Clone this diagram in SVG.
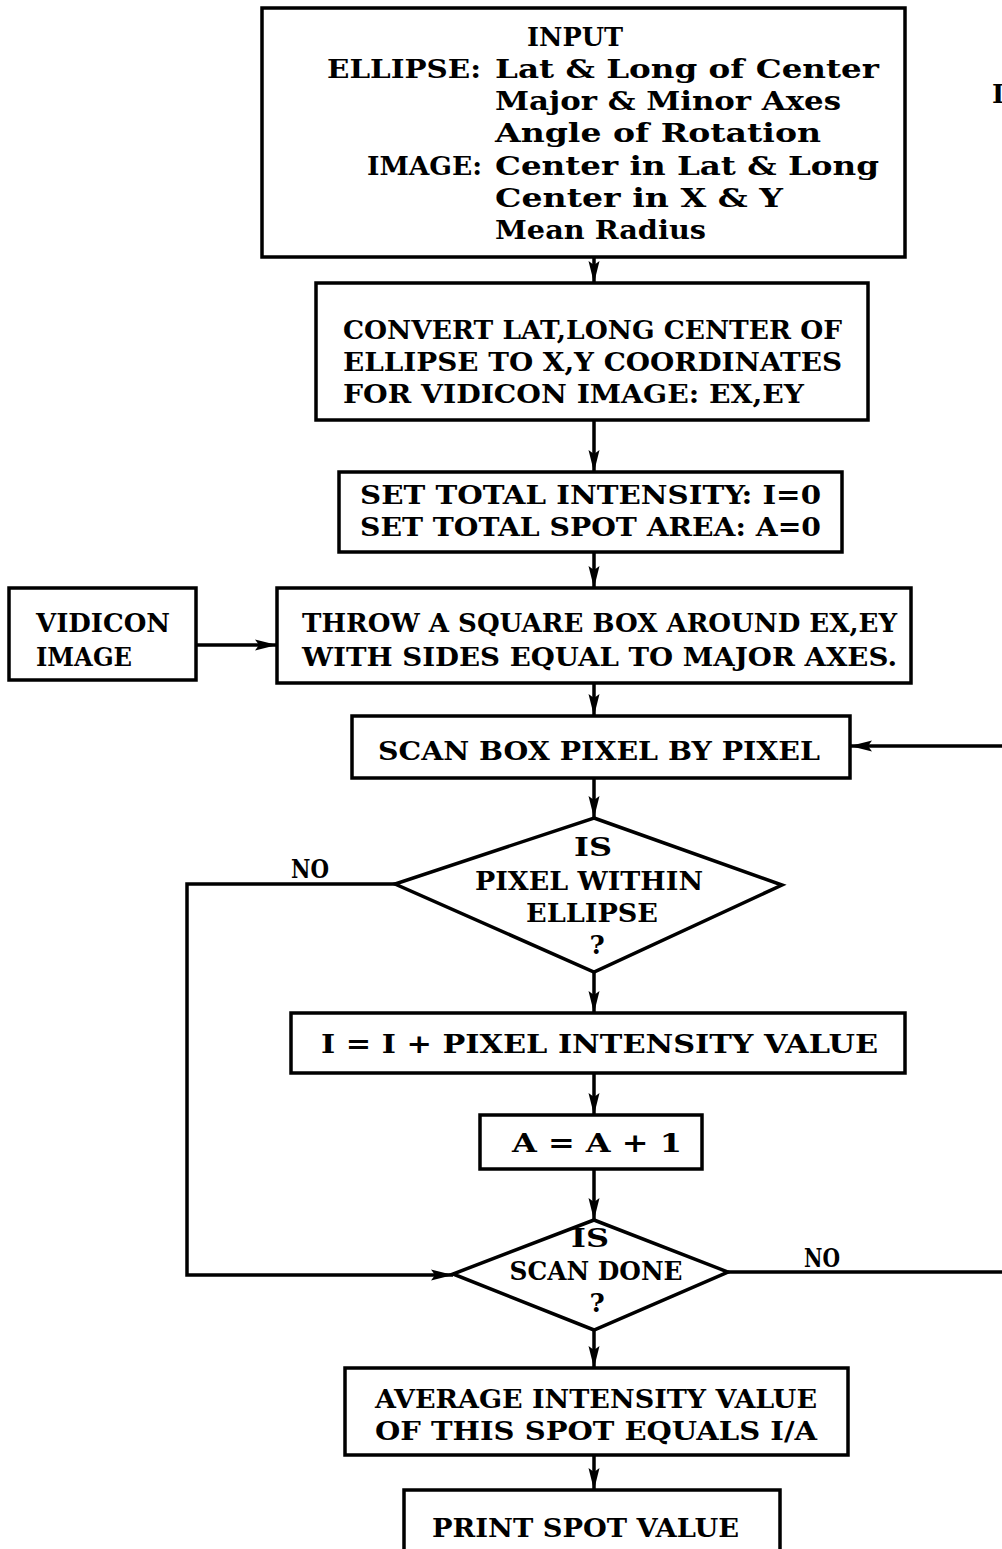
<svg xmlns="http://www.w3.org/2000/svg" width="1002" height="1549" viewBox="0 0 1002 1549">
<style>
  .box { fill: #fff; stroke: #000; stroke-width: 3.5; }
  .ln { fill: none; stroke: #000; stroke-width: 3.5; }
  text { font-family: "DejaVu Serif", "Liberation Serif", serif; font-weight: bold; font-size: 26px; fill: #000; }
  .c { text-anchor: middle; }
</style>
<defs>
  <marker id="ah" markerUnits="userSpaceOnUse" markerWidth="24" markerHeight="14" refX="22" refY="7" orient="auto">
    <path d="M0,1.5 L22,7 L0,12.5 L4,7 z" fill="#000"/>
  </marker>
</defs>
<rect width="1002" height="1549" fill="#fff"/>

<g id="connectors">
  <line class="ln" x1="594" y1="257" x2="594" y2="283" marker-end="url(#ah)"/>
  <line class="ln" x1="594" y1="420" x2="594" y2="472" marker-end="url(#ah)"/>
  <line class="ln" x1="594" y1="552" x2="594" y2="588" marker-end="url(#ah)"/>
  <line class="ln" x1="196" y1="645" x2="277" y2="645" marker-end="url(#ah)"/>
  <line class="ln" x1="594" y1="683" x2="594" y2="716" marker-end="url(#ah)"/>
  <line class="ln" x1="1002" y1="746" x2="850" y2="746" marker-end="url(#ah)"/>
  <line class="ln" x1="594" y1="778" x2="594" y2="818" marker-end="url(#ah)"/>
  <polyline class="ln" points="395,884 187,884 187,1275 453,1275" marker-end="url(#ah)"/>
  <line class="ln" x1="594" y1="972" x2="594" y2="1013" marker-end="url(#ah)"/>
  <line class="ln" x1="594" y1="1073" x2="594" y2="1115" marker-end="url(#ah)"/>
  <line class="ln" x1="594" y1="1169" x2="594" y2="1220" marker-end="url(#ah)"/>
  <line class="ln" x1="728" y1="1272" x2="1002" y2="1272"/>
  <line class="ln" x1="594" y1="1330" x2="594" y2="1368" marker-end="url(#ah)"/>
  <line class="ln" x1="594" y1="1455" x2="594" y2="1490" marker-end="url(#ah)"/>
  <text x="310" y="878" class="c" textLength="38" lengthAdjust="spacingAndGlyphs">NO</text>
  <text x="822" y="1267" class="c" textLength="36" lengthAdjust="spacingAndGlyphs">NO</text>
</g>

<g id="input">
  <rect class="box" x="262" y="8" width="643" height="249"/>
  <text x="527" y="46" textLength="96" lengthAdjust="spacingAndGlyphs">INPUT</text>
  <text x="327" y="78" textLength="154" lengthAdjust="spacingAndGlyphs">ELLIPSE:</text>
  <text x="495" y="78" textLength="384" lengthAdjust="spacingAndGlyphs">Lat &amp; Long of Center</text>
  <text x="495" y="110" textLength="346" lengthAdjust="spacingAndGlyphs">Major &amp; Minor Axes</text>
  <text x="495" y="142" textLength="326" lengthAdjust="spacingAndGlyphs">Angle of Rotation</text>
  <text x="367" y="175" textLength="115" lengthAdjust="spacingAndGlyphs">IMAGE:</text>
  <text x="495" y="175" textLength="384" lengthAdjust="spacingAndGlyphs">Center in Lat &amp; Long</text>
  <text x="495" y="207" textLength="288" lengthAdjust="spacingAndGlyphs">Center in X &amp; Y</text>
  <text x="495" y="239" textLength="211" lengthAdjust="spacingAndGlyphs">Mean Radius</text>
</g>

<g id="convert">
  <rect class="box" x="316" y="283" width="552" height="137"/>
  <text x="343" y="339" textLength="499" lengthAdjust="spacingAndGlyphs">CONVERT LAT,LONG CENTER OF</text>
  <text x="343" y="371" textLength="499" lengthAdjust="spacingAndGlyphs">ELLIPSE TO X,Y COORDINATES</text>
  <text x="343" y="403" textLength="461" lengthAdjust="spacingAndGlyphs">FOR VIDICON IMAGE: EX,EY</text>
</g>

<g id="init">
  <rect class="box" x="339" y="472" width="503" height="80"/>
  <text x="360" y="504" textLength="461" lengthAdjust="spacingAndGlyphs">SET TOTAL INTENSITY: I=0</text>
  <text x="360" y="536" textLength="461" lengthAdjust="spacingAndGlyphs">SET TOTAL SPOT AREA: A=0</text>
</g>

<g id="vidicon">
  <rect class="box" x="9" y="588" width="187" height="92"/>
  <text x="36" y="632" textLength="134" lengthAdjust="spacingAndGlyphs">VIDICON</text>
  <text x="36" y="666" textLength="96" lengthAdjust="spacingAndGlyphs">IMAGE</text>
</g>

<g id="throw">
  <rect class="box" x="277" y="588" width="634" height="95"/>
  <text x="302" y="632" textLength="595" lengthAdjust="spacingAndGlyphs">THROW A SQUARE BOX AROUND EX,EY</text>
  <text x="302" y="666" textLength="595" lengthAdjust="spacingAndGlyphs">WITH SIDES EQUAL TO MAJOR AXES.</text>
</g>

<g id="scan">
  <rect class="box" x="352" y="716" width="498" height="62"/>
  <text x="378" y="760" textLength="442" lengthAdjust="spacingAndGlyphs">SCAN BOX PIXEL BY PIXEL</text>
</g>

<g id="within">
  <polygon class="box" points="594,818 782,885 594,972 395,884"/>
  <text x="593" y="856" class="c" textLength="38" lengthAdjust="spacingAndGlyphs">IS</text>
  <text x="589" y="890" class="c" textLength="228" lengthAdjust="spacingAndGlyphs">PIXEL WITHIN</text>
  <text x="592" y="922" class="c" textLength="132" lengthAdjust="spacingAndGlyphs">ELLIPSE</text>
  <text x="597" y="954" class="c">?</text>
</g>

<g id="addI">
  <rect class="box" x="291" y="1013" width="614" height="60"/>
  <text x="321" y="1053" textLength="557" lengthAdjust="spacingAndGlyphs">I = I + PIXEL INTENSITY VALUE</text>
</g>

<g id="addA">
  <rect class="box" x="480" y="1115" width="222" height="54"/>
  <text x="512" y="1152" textLength="170" lengthAdjust="spacingAndGlyphs">A = A + 1</text>
</g>

<g id="done">
  <polygon class="box" points="594,1220 728,1272 594,1330 453,1274"/>
  <text x="590" y="1247" class="c" textLength="38" lengthAdjust="spacingAndGlyphs">IS</text>
  <text x="596" y="1280" class="c" textLength="173" lengthAdjust="spacingAndGlyphs">SCAN DONE</text>
  <text x="597" y="1312" class="c">?</text>
</g>

<g id="average">
  <rect class="box" x="345" y="1368" width="503" height="87"/>
  <text x="375" y="1408" textLength="442" lengthAdjust="spacingAndGlyphs">AVERAGE INTENSITY VALUE</text>
  <text x="375" y="1440" textLength="442" lengthAdjust="spacingAndGlyphs">OF THIS SPOT EQUALS I/A</text>
</g>

<g id="print">
  <rect class="box" x="404" y="1490" width="376" height="80"/>
  <text x="432" y="1537" textLength="307" lengthAdjust="spacingAndGlyphs">PRINT SPOT VALUE</text>
</g>

<text x="992" y="103">I</text>
</svg>
